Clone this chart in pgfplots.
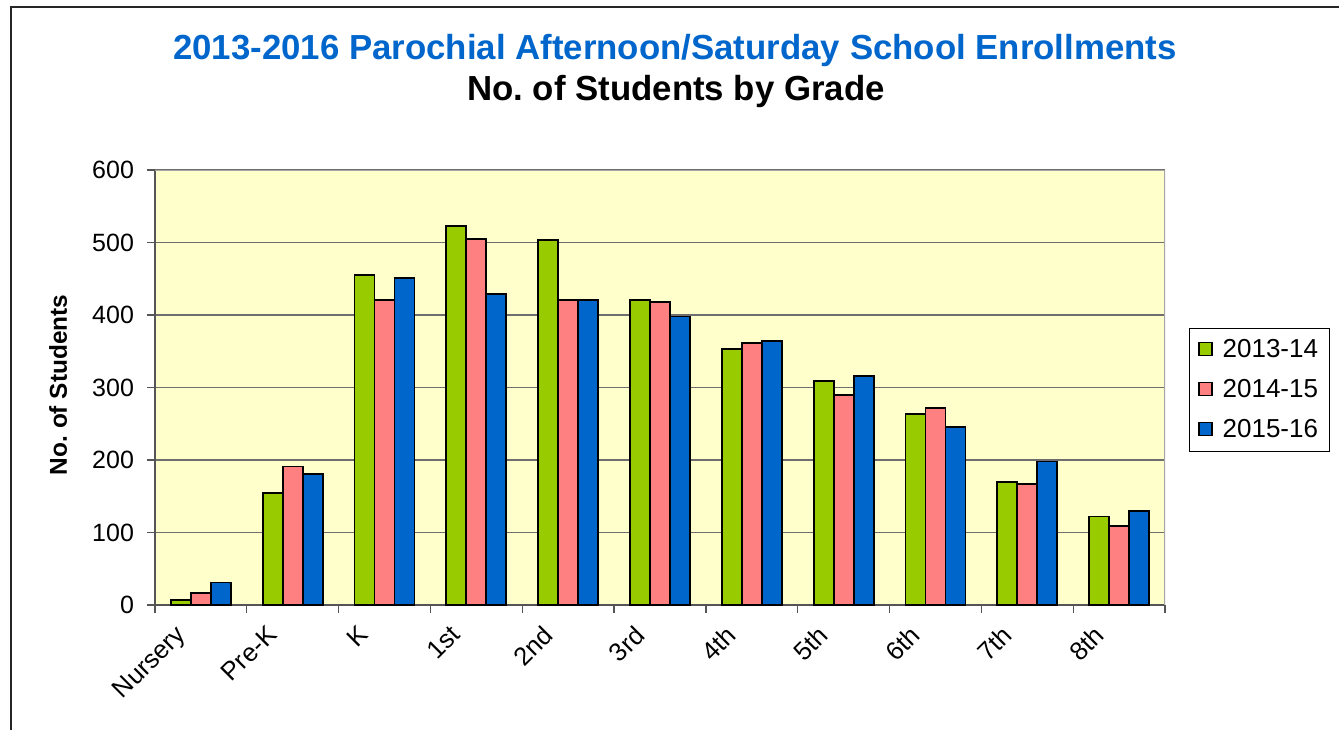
\documentclass[border=0pt]{standalone}
\usepackage{pgfplots}
\pgfplotsset{compat=1.18}
\usepackage{fontspec}
\setmainfont{Liberation Sans}
\frenchspacing
\definecolor{cGreen}{HTML}{99CC00}
\definecolor{cPink}{HTML}{FF8080}
\definecolor{cBlue}{HTML}{0066CC}
\definecolor{bgYellow}{HTML}{FFFFCC}
\definecolor{gridGray}{HTML}{6E6E6E}
\definecolor{axGray}{HTML}{555555}
\begin{document}
\begin{tikzpicture}
\useasboundingbox (0pt,0pt) rectangle (669.5pt,365pt);
% outer chart frame (top and left visible)
\draw[line width=1pt,black!85] (5.5pt,0pt) -- (5.5pt,361.5pt) -- (669.5pt,361.5pt);
\node[font=\fontsize{17.4}{20}\selectfont\bfseries,text=cBlue,anchor=base] at (337.5pt,335pt) {2013-2016 Parochial Afternoon/Saturday School Enrollments};
\node[font=\fontsize{17.4}{20}\selectfont\bfseries,anchor=base] at (338pt,314.5pt) {No. of Students by Grade};
\begin{axis}[
  at={(77.5pt,62.5pt)}, anchor=south west,
  scale only axis, width=505pt, height=217.5pt,
  xmin=-0.5, xmax=10.5, ymin=0, ymax=600,
  enlargelimits=false,
  axis background/.style={fill=bgYellow},
  axis x line*=bottom, axis y line*=left,
  axis line style={draw=axGray,line width=0.8pt},
  ybar=0pt, bar width=0.218,
  xtick={0,...,10},
  xticklabels={Nursery,Pre-K,K,1st,2nd,3rd,4th,5th,6th,7th,8th},
  minor xtick={-0.5,0.5,...,10.5},
  ytick={0,100,...,600},
  major x tick style={draw=none},
  tick align=outside,
  major tick length=4pt, minor tick length=4pt,
  every tick/.style={draw=axGray,line width=0.6pt},
  ymajorgrids, major grid style={draw=gridGray,line width=0.6pt},
  /pgf/number format/assume math mode=true,
  yticklabel style={font=\fontsize{12.5}{14}\selectfont, xshift=-3pt},
  xticklabel style={font=\fontsize{12.8}{14}\selectfont, xshift=-13.5pt, yshift=-0.5pt, rotate=45, anchor=north east},
  ylabel={No. of Students},
  ylabel style={font=\fontsize{12.2}{14}\selectfont\bfseries, at={(axis description cs:-0.096,0.506)}, anchor=center, rotate=0},
  legend style={at={(axis description cs:1.0238,0.637)}, anchor=north west, draw=black, fill=white,
    font=\fontsize{13}{15}\selectfont, row sep=6.5pt, inner xsep=4.5pt, inner ysep=4pt,
    nodes={text height=9.5pt, text depth=2pt, inner sep=1pt},
    /tikz/every odd column/.append style={column sep=4pt}},
  legend cell align=left,
  legend image code/.code={\draw[#1,line width=0.6pt] (0pt,-3pt) rectangle (6.5pt,3.5pt);},
  every axis plot/.append style={draw=black, line width=0.9pt},
]
\addplot[fill=cGreen] coordinates {(0,7) (1,154) (2,455) (3,523) (4,503) (5,421) (6,353) (7,309) (8,264) (9,170) (10,122)};
\addplot[fill=cPink] coordinates {(0,17) (1,191) (2,421) (3,505) (4,421) (5,418) (6,361) (7,290) (8,272) (9,167) (10,109)};
\addplot[fill=cBlue] coordinates {(0,31) (1,181) (2,451) (3,429) (4,421) (5,398) (6,364) (7,316) (8,246) (9,198) (10,130)};
\legend{2013-14,2014-15,2015-16}
\draw[draw=gray!70,line width=0.6pt] (rel axis cs:0,1) -- (rel axis cs:1,1) -- (rel axis cs:1,0);
\end{axis}
\end{tikzpicture}
\end{document}
